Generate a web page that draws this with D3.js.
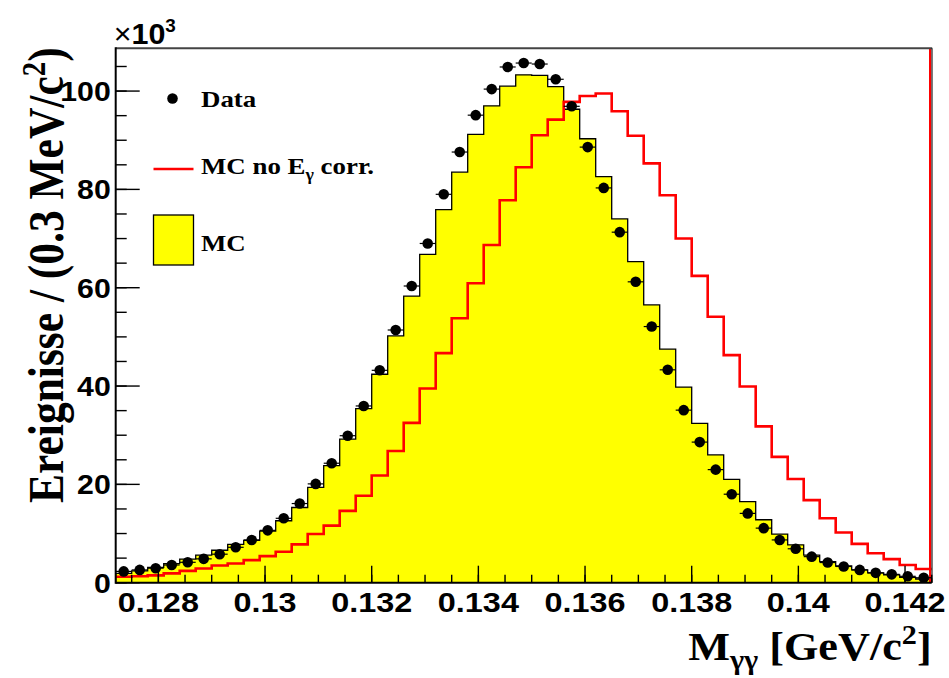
<!DOCTYPE html>
<html>
<head>
<meta charset="utf-8">
<script src="https://cdn.jsdelivr.net/npm/d3@7"></script>
<style>
  html, body { margin: 0; padding: 0; background: #fff; }
  svg { display: block; }
  .sans { font-family: "Liberation Sans", Arial, Helvetica, sans-serif; font-weight: bold; }
  .serif { font-family: "Liberation Serif", "Times New Roman", Times, serif; font-weight: bold; }
</style>
</head>
<body>
<svg id="chart" width="949" height="678"></svg>
<script>
// ---- Data (counts in units of 10^3 per 0.3 MeV/c^2 bin) ----
const xMin = 0.1272;          // lower edge of first bin (GeV/c^2)
const xMax = 0.1425;          // upper edge of last bin
const binWidth = 0.0003;      // 0.3 MeV/c^2
const binCenters = d3.range(51).map(i => xMin + binWidth * (i + 0.5));

const dataValues = [
  2.3, 2.6, 2.95, 3.6, 4.15, 4.85, 5.8, 7.2, 8.7, 10.65,
  13.1, 16.1, 20.1, 24.3, 29.9, 35.95, 43.2, 51.4, 60.35, 69.0,
  79.0, 87.6, 95.1, 100.4, 104.9, 105.7, 105.5, 102.4, 96.9, 88.6,
  80.3, 71.3, 61.2, 52.1, 43.3, 35.1, 28.6, 23.0, 18.0, 14.1,
  11.1, 8.7, 6.9, 5.3, 4.1, 3.3, 2.6, 2.0, 1.7, 1.3, 1.0
];

const mcValues = [
  1.9, 2.4, 3.1, 3.9, 4.8, 5.6, 6.6, 7.8, 8.6, 10.5,
  12.6, 15.3, 19.4, 23.8, 29.2, 35.4, 42.4, 50.2, 58.3, 66.8,
  75.9, 83.5, 91.2, 97.0, 101.0, 103.3, 103.2, 100.9, 96.3, 90.3,
  82.6, 74.0, 65.3, 56.5, 47.5, 39.8, 32.4, 26.0, 21.0, 16.5,
  12.8, 9.9, 7.7, 5.6, 4.3, 3.4, 2.6, 2.0, 1.6, 1.1, 0.75
];

const mcNoCorrValues = [
  1.2, 1.3, 1.5, 1.9, 2.4, 2.9, 3.5, 3.9, 4.6, 5.4,
  6.3, 7.8, 9.9, 11.6, 14.6, 17.7, 21.8, 26.8, 32.5, 39.5,
  46.7, 53.8, 60.9, 68.7, 77.8, 84.5, 91.0, 94.2, 97.8, 99.0,
  99.5, 95.9, 90.9, 85.3, 78.8, 70.0, 62.4, 54.1, 46.3, 39.9,
  31.8, 25.6, 21.1, 16.8, 13.1, 10.2, 7.9, 6.0, 4.8, 3.6, 2.8
];

const xTickValues = [0.128, 0.130, 0.132, 0.134, 0.136, 0.138, 0.140, 0.142];
const xTickLabels = ["0.128", "0.13", "0.132", "0.134", "0.136", "0.138", "0.14", "0.142"];
const yTickValues = [0, 20, 40, 60, 80, 100];
const yTickLabels = ["0", "20", "40", "60", "80", "100"];
const yMax = 108.7;

// ---- Layout ----
const svg = d3.select("#chart");
const L = 115.7, R = 931.7, T = 48.3, B = 582.7;

const x = d3.scaleLinear().domain([xMin, xMax]).range([L, R]);
const y = d3.scaleLinear().domain([0, yMax]).range([B, T]);

function stepPoints(vals) {
  const pts = vals.map((v, i) => [binCenters[i] - binWidth / 2, v]);
  pts.push([binCenters[vals.length - 1] + binWidth / 2, vals[vals.length - 1]]);
  return pts;
}

// ---- MC (yellow filled histogram) ----
const mcPts = stepPoints(mcValues);
const area = d3.area().curve(d3.curveStepAfter)
  .x(d => x(d[0])).y0(y(0)).y1(d => y(d[1]));
svg.append("path").attr("d", area(mcPts))
  .attr("fill", "#ffff00").attr("stroke", "none");
const outlinePts = [[mcPts[0][0], 0], ...mcPts, [mcPts[mcPts.length - 1][0], 0]];
const stepLine = d3.line().curve(d3.curveStepAfter).x(d => x(d[0])).y(d => y(d[1]));
svg.append("path").attr("d", stepLine(outlinePts))
  .attr("fill", "none").attr("stroke", "#000").attr("stroke-width", 1.3);

// ---- MC without E_gamma correction (red line histogram) ----
const redPts = stepPoints(mcNoCorrValues);
svg.append("path").attr("d", stepLine(redPts))
  .attr("fill", "none").attr("stroke", "#ff0000").attr("stroke-width", 2.6);
svg.append("line")
  .attr("x1", x(xMax) - 1.6).attr("x2", x(xMax) - 1.6)
  .attr("y1", y(yMax)).attr("y2", y(0))
  .attr("stroke", "#ff0000").attr("stroke-width", 2.2);

// ---- Data points ----
const gData = svg.append("g");
dataValues.forEach((v, i) => {
  const cx = x(binCenters[i]), cy = y(v);
  gData.append("line")
    .attr("x1", x(binCenters[i] - binWidth / 2)).attr("x2", x(binCenters[i] + binWidth / 2))
    .attr("y1", cy).attr("y2", cy)
    .attr("stroke", "#000").attr("stroke-width", 1.2);
  gData.append("circle").attr("cx", cx).attr("cy", cy).attr("r", 5.3).attr("fill", "#000");
});

// ---- Frame / axes ----
svg.append("line").attr("x1", L).attr("x2", R + 0.5).attr("y1", T).attr("y2", T)
  .attr("stroke", "#444").attr("stroke-width", 2);
svg.append("line").attr("x1", R + 0.3).attr("x2", R + 0.3).attr("y1", T).attr("y2", B)
  .attr("stroke", "#222").attr("stroke-width", 1.2);

const xAxisG = svg.append("g");
xAxisG.append("line").attr("x1", L).attr("x2", R).attr("y1", B).attr("y2", B)
  .attr("stroke", "#000").attr("stroke-width", 2);
d3.range(0.1275, 0.14251, 0.0005).forEach(t => {
  xAxisG.append("line").attr("x1", x(t)).attr("x2", x(t)).attr("y1", B).attr("y2", B - 8)
    .attr("stroke", "#000").attr("stroke-width", 1.4);
});
xTickValues.forEach((t, i) => {
  xAxisG.append("line").attr("x1", x(t)).attr("x2", x(t)).attr("y1", B).attr("y2", B - 17)
    .attr("stroke", "#000").attr("stroke-width", 1.4);
  xAxisG.append("text").attr("class", "sans")
    .attr("transform", `translate(${x(t)},612) scale(1.2,1)`)
    .attr("text-anchor", "middle").attr("font-size", 27).attr("fill", "#000")
    .text(xTickLabels[i]);
});

const yAxisG = svg.append("g");
yAxisG.append("line").attr("x1", L).attr("x2", L).attr("y1", T - 1).attr("y2", B + 1)
  .attr("stroke", "#000").attr("stroke-width", 2);
d3.range(0, yMax, 5).forEach(t => {
  yAxisG.append("line").attr("x1", L).attr("x2", L + 11).attr("y1", y(t)).attr("y2", y(t))
    .attr("stroke", "#000").attr("stroke-width", 1.4);
});
yTickValues.forEach((t, i) => {
  yAxisG.append("line").attr("x1", L).attr("x2", L + 24).attr("y1", y(t)).attr("y2", y(t))
    .attr("stroke", "#000").attr("stroke-width", 1.4);
  yAxisG.append("text").attr("class", "sans")
    .attr("transform", `translate(${L - 5},${y(t) + 10}) scale(1.1,1)`)
    .attr("text-anchor", "end").attr("font-size", 27.5).attr("fill", "#000")
    .text(yTickLabels[i]);
});

// x10^3 multiplier
const mult = svg.append("text").attr("class", "sans")
  .attr("transform", `translate(${L - 2},44) scale(1.05,1)`)
  .attr("font-size", 29).attr("fill", "#000");
mult.append("tspan").attr("font-weight", "normal").text("\u00d7");
mult.append("tspan").text("10");
mult.append("tspan").attr("font-size", 18).attr("dy", -12).text("3");

// ---- Axis titles ----
const xt = svg.append("text").attr("class", "serif")
  .attr("transform", `translate(${R},660) scale(1.12,1)`)
  .attr("text-anchor", "end").attr("font-size", 39.5).attr("fill", "#000");
xt.append("tspan").text("M");
xt.append("tspan").attr("font-size", 27).attr("dy", 9).text("\u03b3\u03b3");
xt.append("tspan").attr("dy", -9).text(" [GeV/c");
xt.append("tspan").attr("font-size", 27).attr("dy", -16).text("2");
xt.append("tspan").attr("dy", 16).text("]");

const yt = svg.append("text").attr("class", "serif")
  .attr("transform", `translate(63,${T - 1}) scale(1.15,1) rotate(-90)`)
  .attr("text-anchor", "end").attr("font-size", 43.5).attr("fill", "#000");
yt.append("tspan").text("Ereignisse / (0.3 MeV/c");
yt.append("tspan").attr("font-size", 29).attr("dy", -16).text("2");
yt.append("tspan").attr("dy", 16).text(")");

// ---- Legend ----
const lg = svg.append("g");
lg.append("circle").attr("cx", 172.5).attr("cy", 98.5).attr("r", 5.3).attr("fill", "#000");
lg.append("text").attr("class", "serif")
  .attr("transform", `translate(201,107) scale(1.12,1)`)
  .attr("font-size", 24).attr("fill", "#000").text("Data");

lg.append("line").attr("x1", 153.5).attr("x2", 193.5).attr("y1", 169).attr("y2", 169)
  .attr("stroke", "#ff0000").attr("stroke-width", 2.6);
const t2 = lg.append("text").attr("class", "serif")
  .attr("transform", `translate(201,174) scale(1.12,1)`)
  .attr("font-size", 24).attr("fill", "#000");
t2.append("tspan").text("MC no E");
t2.append("tspan").attr("font-size", 16).attr("dy", 6).text("\u03b3");
t2.append("tspan").attr("dy", -6).text(" corr.");

lg.append("rect").attr("x", 153.5).attr("y", 215).attr("width", 40).attr("height", 50)
  .attr("fill", "#ffff00").attr("stroke", "#000").attr("stroke-width", 1.3);
lg.append("text").attr("class", "serif")
  .attr("transform", `translate(201,251) scale(1.12,1)`)
  .attr("font-size", 24).attr("fill", "#000").text("MC");
</script>
</body>
</html>
